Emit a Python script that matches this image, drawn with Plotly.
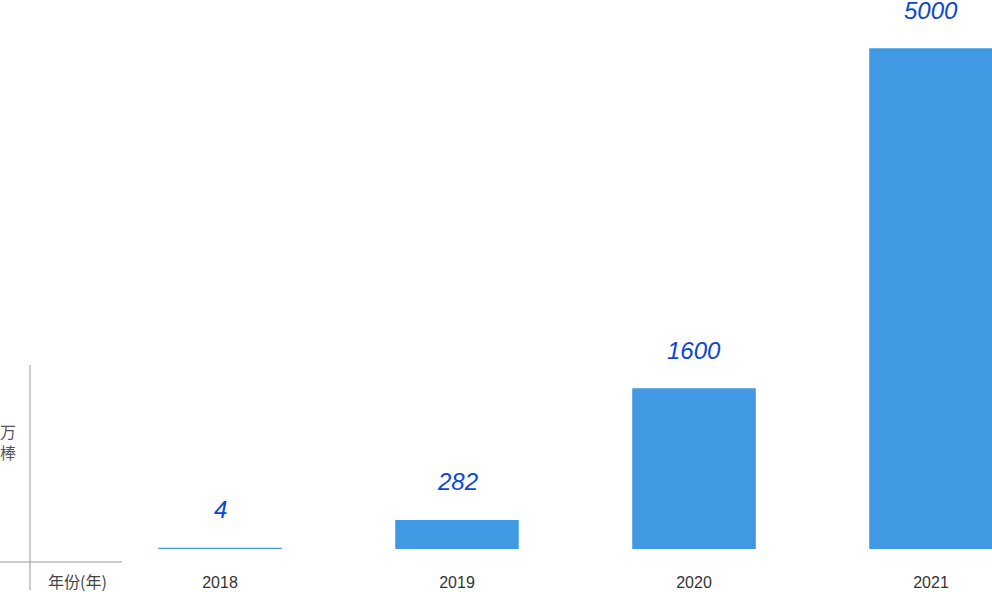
import plotly.graph_objects as go

years = ["2018", "2019", "2020", "2021"]
values = [4, 282, 1600, 5000]
value_labels = ["4", "282", "1600", "5000"]
y_unit = "万<br>棒"
x_title = "年份(年)"

bar_color = "#4199E3"
label_color = "#0B47D5"

W, H = 992, 592
plot_bottom = 549
ph = plot_bottom

fig = go.Figure()
fig.add_trace(go.Bar(
    x=years, y=values,
    width=0.515,
    marker=dict(color=bar_color, line=dict(color=bar_color, width=1.5)),
    hoverinfo="skip",
    cliponaxis=False,
))

annotations = []
for i, (v, t) in enumerate(zip(values, value_labels)):
    annotations.append(dict(
        xref="x", yref="y", x=i, y=v, text="<i>" + t + "</i>",
        showarrow=False, yanchor="middle", yshift=39,
        font=dict(family="Liberation Sans, Arial, sans-serif", size=24, color=label_color),
    ))

def py(p):
    return (plot_bottom - p) / ph

annotations.append(dict(xref="paper", yref="paper", x=8 / W, y=py(442),
                        text=y_unit, showarrow=False, xanchor="center", yanchor="middle",
                        font=dict(family="Noto Sans CJK SC", size=16, color="#555555")))
annotations.append(dict(xref="paper", yref="paper", x=77 / W, y=py(581),
                        text=x_title, showarrow=False, xanchor="center", yanchor="middle",
                        font=dict(family="Noto Sans CJK SC", size=16, color="#444444")))

shapes = [
    dict(type="line", xref="paper", yref="paper",
         x0=30 / W, x1=30 / W, y0=py(365), y1=py(590),
         line=dict(color="#999999", width=1)),
    dict(type="line", xref="paper", yref="paper",
         x0=0, x1=122 / W, y0=py(562), y1=py(562),
         line=dict(color="#999999", width=1)),
]

x0 = -220 / 237
x1 = x0 + W / 237

fig.update_layout(
    width=W, height=H,
    margin=dict(l=0, r=0, t=0, b=H - plot_bottom, pad=0),
    paper_bgcolor="white", plot_bgcolor="white",
    showlegend=False,
    annotations=annotations,
    shapes=shapes,
    xaxis=dict(type="category", range=[x0, x1], showgrid=False, zeroline=False,
               showline=False, ticks="", ticklabelstandoff=22,
               tickfont=dict(family="Liberation Sans, Arial, sans-serif", size=16, color="#333333")),
    yaxis=dict(range=[0, 5490], visible=False),
)

fig.write_html("out.html", config={"displayModeBar": False},
               post_script="document.body.style.margin='0';document.body.style.overflow='hidden';")
